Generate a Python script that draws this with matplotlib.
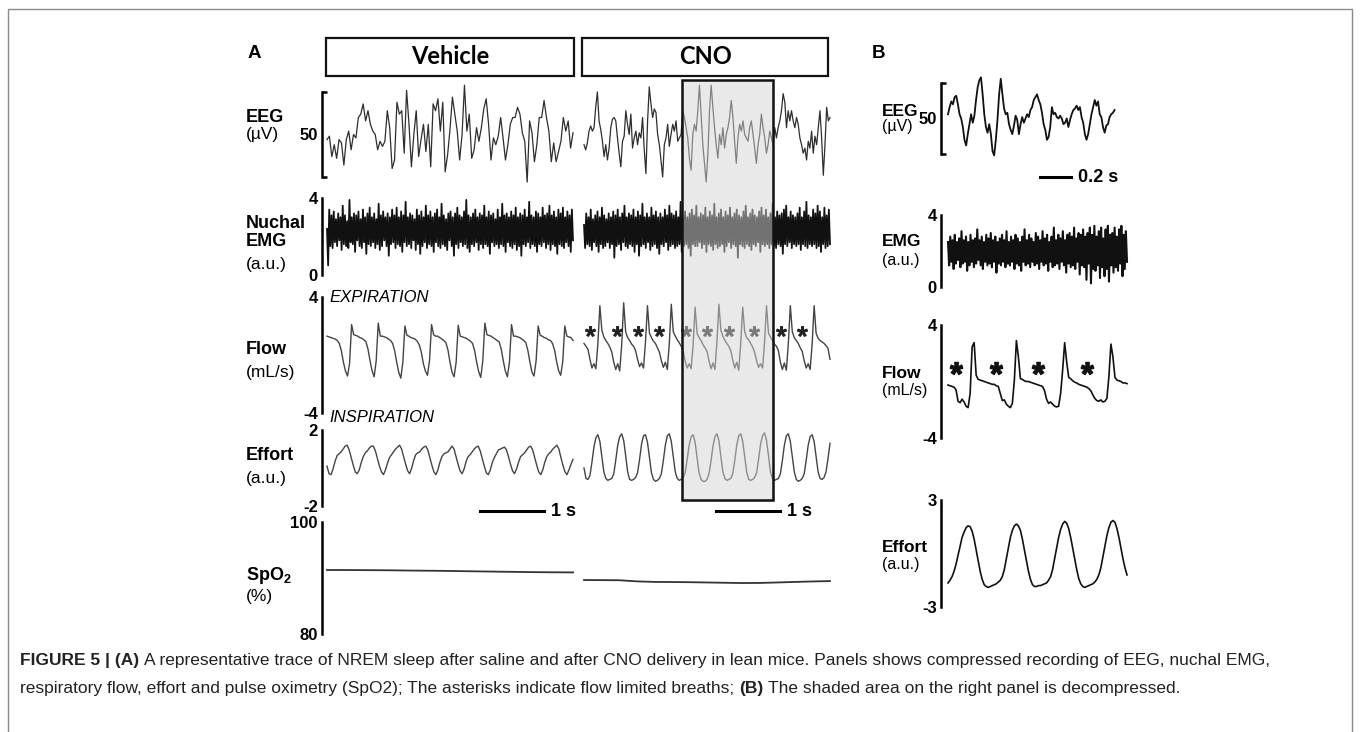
import numpy as np
import matplotlib.pyplot as plt
from matplotlib import transforms, font_manager
from matplotlib.patches import Rectangle
from matplotlib.lines import Line2D

plt.rcParams['font.family'] = ['Liberation Sans', 'DejaVu Sans']
plt.rcParams['mathtext.fontset'] = 'custom'
plt.rcParams['mathtext.rm'] = 'Liberation Sans'
plt.rcParams['mathtext.bf'] = 'Liberation Sans:bold'

names = {f.name for f in font_manager.fontManager.ttflist}
cap_font = 'Liberation Sans Narrow' if 'Liberation Sans Narrow' in names else 'Liberation Sans'
box_font = 'Lato' if 'Lato' in names else 'DejaVu Sans'

# ---- data ----
A_DUR = 3.83   # s per compressed segment (1 s bar = 64 px)
B_DUR = 1.15   # s in decompressed panel

eeg_veh = [-3, -1, -13, -6, -14, -3, -5, -18, -3, 2, -9, 0, -2, 10, 12, 18, 8, 14, 6, 2, 0, -9, -4, -7,
           -4, 14, 4, -20, -15, 19, 12, 14, -11, 26, 6, -19, 0, 14, -13, -3, 6, -10, 6, -19, 18, 14, 21,
           2, 19, -22, -12, 3, 22, 12, 2, -15, 0, 29, 2, 12, -14, -9, 4, -4, 4, 15, 21, 6, -15, -2, -6,
           -1, 10, -2, -15, -6, 6, 10, 10, 16, 12, 1, -4, -28, 8, 1, -16, -6, 10, 10, 20, 10, 2, -16, -5,
           -16, -10, -4, 10, 2, 8, -8, 1]
eeg_cno = [-6, -9, -5, 2, 5, 2, 4, 16, 25, 8, 3, -4, -13, -6, -15, -8, 4, 9, 10, 8, -2, -11, -19, -4,
           -1, 14, 6, 0, 12, -8, -2, 2, -6, 1, -2, 10, -9, -23, 8, 28, 18, 10, 15, 13, 0, -6, -15, -25,
           -6, -2, 6, -7, 0, 6, 2, 8, -4, -2, 0, 14, 10, 4, -2, -14, -21, 0, 6, 2, 14, 29, 12, -6, -17,
           -28, -12, 14, 29, 16, 4, -6, -14, 0, -6, 4, -8, 0, 4, 10, 20, 10, -4, -17, -2, 6, 2, 8, 0, -2,
           -4, 4, 8, 0, -8, -17, -6, 0, 12, 4, -2, -11, -6, 2, -2, -6, 4, -2, 4, 8, 14, 24, 19, 4, 14, 8,
           14, 8, 4, 10, 6, -2, -6, -11, -8, -15, -4, -8, 2, -11, -1, -6, 4, 14, -2, -24, -6, 16, 8, 10]
eeg_b = [3, 8, 12, 10, 15, 16, 10, 3, 0, -6, -15, -19, -11, -4, 3, -3, 2, 13, 22, 27, 29, 17, 3, -6,
         -10, -4, -11, -23, -26, -15, -1, 17, 28, 17, 7, 3, 4, -4, -8, -11, -5, 2, -1, -11, -4, 1, -3, 0,
         3, 1, 6, 8, 13, 15, 17, 13, 10, 4, -4, -8, -15, -13, -6, 8, 3, 4, 1, 0, 2, 0, -4, -3, 0, -6, -1,
         3, 6, 7, 9, 6, 8, 1, -3, -11, -15, -11, -4, 3, 8, 13, 9, 12, 3, 1, -6, -10, -5, -4, 1, 3, 4, 6]

emg_veh = [2.4, 0.5, 3.4, 1.5, 3.1, 1.4, 3.3, 1.7, 2.9, 1.5, 3.2, 1.8, 3.0, 1.3, 3.6, 1.6, 3.1, 1.5, 2.8, 1.4,
           3.9, 1.7, 3.0, 1.6, 3.2, 1.2, 3.1, 1.8, 3.3, 1.5, 2.9, 1.4, 3.4, 1.7, 3.0, 1.1, 3.2, 1.6, 3.5, 1.5,
           3.0, 1.7, 3.2, 1.4, 2.9, 1.6, 3.7, 1.3, 3.1, 1.5, 3.3, 1.8, 3.0, 1.5, 3.2, 1.0, 3.0, 1.6, 3.4, 1.7,
           3.1, 1.4, 3.5, 1.6, 3.0, 1.5, 3.3, 1.2, 3.1, 1.7, 3.8, 1.5, 3.0, 1.6, 3.2, 1.4, 3.1, 1.8, 2.9, 1.3,
           3.4, 1.6, 3.1, 1.1, 3.3, 1.5, 3.0, 1.7, 3.6, 1.4, 3.1, 1.6, 3.3, 1.5, 3.0, 1.2, 3.2, 1.7, 3.4, 1.5,
           3.0, 1.4, 3.7, 1.6, 3.1, 1.5, 2.9, 1.3, 3.2, 1.8, 3.3, 1.5, 3.0, 1.0, 3.2, 1.6, 3.5, 1.4, 3.1, 1.7,
           3.0, 1.5, 3.3, 1.6, 3.9, 1.4, 3.1, 1.2, 3.0, 1.6, 3.2, 1.5, 3.4, 1.7, 3.0, 1.3, 3.2, 1.6, 3.1, 1.4,
           3.6, 1.6, 3.0, 1.5, 3.3, 1.1, 3.1, 1.7, 3.2, 1.5, 2.9, 1.6, 3.4, 1.4, 3.0, 1.6, 3.7, 1.5, 3.1, 1.2,
           3.2, 1.7, 3.0, 1.5, 3.3, 1.4, 3.1, 1.6, 3.5, 1.3, 3.0, 1.5, 3.2, 1.0, 3.1, 1.6, 3.4, 1.5, 3.0, 1.7,
           3.8, 1.4, 3.1, 1.6, 3.0, 1.5, 3.3, 1.2, 3.2, 1.6, 3.0, 1.5, 3.5, 1.7, 3.1, 1.4, 3.2, 1.6, 3.6, 1.3,
           3.1, 1.6, 3.3, 1.5, 3.0, 1.1, 3.4, 1.6, 3.2, 1.5, 3.5, 1.4, 3.0, 1.7, 3.3, 1.5, 3.1, 1.2, 3.4, 1.8]
emg_cno = [2.6, 1.4, 3.2, 1.6, 3.0, 1.5, 3.4, 1.3, 2.9, 1.7, 3.1, 1.5, 3.3, 1.2, 3.0, 1.6, 3.5, 1.4, 3.1, 1.5,
           2.9, 1.7, 3.2, 1.4, 3.0, 1.6, 3.3, 0.9, 3.1, 1.5, 3.4, 1.6, 3.0, 1.3, 3.2, 1.7, 3.6, 1.5, 3.0, 1.4,
           3.2, 1.6, 3.1, 1.5, 3.4, 1.2, 3.0, 1.6, 3.3, 1.0, 3.1, 1.5, 3.7, 1.6, 3.0, 1.4, 3.2, 1.7, 3.0, 1.3,
           3.5, 1.5, 3.1, 1.6, 3.3, 1.4, 3.0, 1.1, 3.2, 1.6, 3.0, 1.5, 3.4, 1.7, 3.1, 1.3, 3.6, 1.5, 3.2, 1.6,
           3.1, 1.4, 3.3, 1.5, 3.0, 1.6, 3.8, 1.2, 3.1, 1.5, 3.3, 1.6, 3.0, 1.4, 3.2, 1.0, 3.4, 1.6, 3.1, 1.5,
           3.6, 1.5, 3.0, 1.7, 3.2, 1.4, 3.1, 1.6, 3.5, 1.2, 3.0, 1.6, 3.3, 1.5, 3.1, 1.3, 3.7, 1.6, 3.0, 1.4,
           3.2, 1.5, 3.4, 1.6, 3.0, 1.2, 3.3, 1.5, 3.1, 1.7, 3.5, 1.4, 3.0, 1.6, 3.2, 1.5, 3.4, 0.9, 3.1, 1.6,
           3.0, 1.5, 3.3, 1.4, 3.6, 1.6, 3.0, 1.5, 3.2, 1.3, 3.4, 1.6, 3.1, 1.5, 3.0, 1.7, 3.3, 1.2, 3.5, 1.6,
           3.1, 1.5, 3.4, 1.6, 3.0, 1.4, 3.2, 1.6, 3.7, 1.5, 3.0, 1.4, 3.3, 1.6, 3.1, 1.5, 3.2, 1.1, 3.4, 1.6,
           3.6, 1.5, 3.0, 1.7, 3.3, 1.4, 3.1, 1.6, 3.0, 1.5, 3.2, 1.6, 3.5, 1.3, 3.0, 1.6, 3.3, 1.5, 3.8, 1.4,
           3.1, 1.6, 3.0, 1.5, 3.4, 1.6, 3.2, 1.4, 3.6, 1.5, 3.3, 1.2, 3.0, 1.6, 3.5, 1.4, 3.1, 1.5, 3.4, 1.6]
emg_b = [2.5, 1.2, 2.8, 1.4, 2.6, 1.0, 2.9, 1.3, 2.5, 1.5, 2.7, 1.1, 3.1, 1.3, 2.6, 1.4, 2.8, 0.9, 2.5, 1.2,
         2.9, 1.4, 2.6, 1.1, 2.7, 1.3, 3.2, 1.5, 2.6, 1.2, 2.8, 1.0, 2.5, 1.4, 2.9, 1.2, 2.7, 1.3, 3.0, 1.1,
         2.6, 1.4, 2.8, 0.8, 2.5, 1.3, 2.7, 1.2, 2.9, 1.4, 2.6, 1.1, 3.1, 1.3, 2.5, 1.2, 2.8, 1.4, 2.6, 1.0,
         2.9, 1.3, 2.7, 1.2, 2.5, 0.9, 2.8, 1.4, 3.2, 1.2, 2.6, 1.3, 2.9, 1.1, 2.7, 1.4, 2.5, 1.2, 3.0, 1.3,
         2.8, 1.0, 2.6, 1.4, 3.1, 1.2, 2.7, 1.3, 2.9, 0.9, 2.5, 1.4, 2.8, 1.1, 3.3, 1.2, 2.6, 1.3, 2.9, 1.0,
         2.7, 1.4, 3.1, 1.2, 2.6, 0.8, 2.9, 1.3, 3.0, 1.1, 2.8, 1.2, 3.3, 1.0, 2.7, 1.4, 3.0, 0.7, 2.9, 1.2,
         3.2, 1.1, 2.8, 0.4, 3.0, 1.3, 3.3, 0.2, 2.9, 1.0, 3.4, 0.9, 2.8, 1.2, 3.1, 0.5, 3.3, 1.1, 2.7, 0.6,
         3.2, 1.0, 3.4, 0.3, 2.9, 1.2, 3.0, 0.8, 3.3, 1.1, 2.8, 0.9, 3.2, 1.3, 3.4, 0.6, 2.9, 1.0, 3.1, 1.4]

flow_veh = [1.3, 1.25, 1.2, 1.15, 1.1, 1.0, 0.8, 0.3, -0.5, -1.1, -1.45, -0.6,
            2.1, 1.4, 1.35, 1.3, 1.2, 1.15, 1.05, 0.9, 0.4, -0.4, -1.1, -1.5, -0.4,
            2.2, 1.3, 1.3, 1.25, 1.2, 1.1, 1.0, 0.8, 0.3, -0.5, -1.2, -1.6, -0.5,
            2.0, 1.35, 1.3, 1.2, 1.15, 1.1, 0.95, 0.7, 0.2, -0.6, -1.1, -1.4, -0.4,
            2.1, 1.4, 1.3, 1.3, 1.2, 1.1, 1.0, 0.85, 0.35, -0.5, -1.2, -1.5, -0.5,
            2.05, 1.3, 1.25, 1.2, 1.15, 1.05, 0.95, 0.8, 0.3, -0.5, -1.15, -1.55, -0.4,
            2.2, 1.4, 1.35, 1.3, 1.2, 1.1, 1.0, 0.9, 0.4, -0.4, -1.1, -1.5, -0.5,
            2.1, 1.3, 1.3, 1.25, 1.2, 1.1, 1.0, 0.85, 0.3, -0.5, -1.2, -1.45, -0.4,
            2.0, 1.35, 1.3, 1.2, 1.15, 1.05, 1.0, 0.8, 0.35, -0.45, -1.1, -1.4, -0.45,
            2.0, 1.3, 1.25, 1.2, 1.0]
flow_cno = [0.8, 0.6, 0.4, -0.3, -0.9, -0.6, -0.95, 0.8,
            3.4, 1.7, 1.25, 1.0, 0.8, 0.55, 0.2, -0.5, -1.0, -0.6, -1.1, 0.7,
            3.6, 1.6, 1.2, 1.0, 0.75, 0.6, 0.3, -0.3, -0.8, -0.55, -0.9, 0.9,
            3.4, 1.5, 1.2, 0.95, 0.8, 0.5, 0.2, -0.4, -0.85, -0.5, -1.0, 0.8,
            3.5, 1.6, 1.3, 1.05, 0.85, 0.6, 0.3, -0.45, -0.9, -0.6, -0.95, 0.7,
            3.3, 1.5, 1.2, 1.0, 0.7, 0.5, 0.25, -0.4, -0.95, -0.55, -1.0, 0.9,
            3.5, 1.7, 1.3, 1.0, 0.8, 0.6, 0.3, -0.35, -0.9, -0.5, -1.05, 0.8,
            3.3, 1.6, 1.2, 1.05, 0.8, 0.55, 0.2, -0.4, -0.85, -0.6, -0.9, 0.85,
            3.4, 1.5, 1.25, 1.0, 0.75, 0.6, 0.3, -0.5, -1.0, -0.55, -1.05, 0.8,
            3.4, 1.6, 1.2, 1.0, 0.8, 0.5, 0.25, -0.4, -0.9, -0.6, -1.0, 0.75,
            3.4, 1.5, 1.15, 1.0, 0.9, 0.8, 0.65, 0.45, -0.3]
flow_b = [-0.25, -0.3, -0.35, -0.4, -0.6, -1.4, -1.5, -1.25, -1.45, -1.75, -1.85, -0.85, 2.45, 2.75, 0.45,
          0.15, 0.1, 0.05, 0.0, -0.05, -0.1, -0.15, -0.2, -0.2, -0.3, -0.35, -0.85, -1.35, -1.3, -1.6,
          -1.75, -1.85, -1.55, 0.1, 2.9, 1.75, 0.2, 0.15, 0.05, 0.0, 0.0, -0.05, -0.1, -0.15, -0.2, -0.25,
          -0.3, -0.35, -0.65, -1.25, -1.55, -1.45, -1.6, -1.75, -1.8, -1.75, -0.85, 0.8, 2.75, 1.4, 0.3,
          0.2, 0.05, -0.05, -0.1, -0.2, -0.25, -0.3, -0.35, -0.4, -0.5, -0.65, -0.95, -1.2, -1.35, -1.4,
          -1.3, -1.45, -1.4, -1.2, 0.35, 2.65, 1.75, 0.3, 0.1, 0.05, 0.0, -0.1, -0.1, -0.15]
ast_cno_t = [0.09, 0.52, 0.84, 1.17, 1.59, 1.91, 2.25, 2.64, 3.06, 3.39]   # flow-limited breaths
ast_b_t = [0.05, 0.31, 0.58, 0.89]

eff_veh = [0.1, -0.3,
           -0.35, -0.05, 0.35, 0.65, 0.75, 0.85, 1.0, 1.15, 1.2, 0.95, 0.55, 0.15, -0.2,
           -0.3, -0.1, 0.3, 0.6, 0.8, 0.9, 1.05, 1.15, 1.15, 0.9, 0.5, 0.1, -0.2,
           -0.35, -0.1, 0.25, 0.55, 0.7, 0.85, 1.0, 1.1, 1.2, 1.0, 0.6, 0.2, -0.15,
           -0.3, 0.0, 0.4, 0.7, 0.8, 0.85, 1.0, 1.1, 1.15, 0.95, 0.55, 0.15, -0.2,
           -0.35, -0.1, 0.3, 0.6, 0.75, 0.8, 0.85, 1.0, 1.15, 1.0, 0.6, 0.2, -0.15,
           -0.3, -0.05, 0.35, 0.6, 0.7, 0.85, 1.0, 1.1, 1.15, 0.9, 0.5, 0.1, -0.25,
           -0.35, -0.1, 0.3, 0.55, 0.75, 0.95, 1.0, 1.05, 1.1, 0.95, 0.6, 0.2, -0.15,
           -0.3, -0.05, 0.3, 0.6, 0.7, 0.8, 0.95, 1.1, 1.15, 0.95, 0.55, 0.15, -0.2,
           -0.35, -0.1, 0.3, 0.6, 0.75, 0.85, 1.0, 1.1, 1.2, 1.0, 0.55, 0.15, -0.2,
           -0.35, -0.1, 0.2, 0.45]
eff_cno = [0.0, -0.55, -0.6, -0.4, 0.3, 1.1, 1.6,
           1.75, 1.4, 0.6, -0.2, -0.55, -0.65, -0.6, -0.55, -0.3, 0.4, 1.2, 1.65,
           1.8, 1.45, 0.65, -0.2, -0.6, -0.65, -0.6, -0.5, -0.25, 0.45, 1.25, 1.7,
           1.75, 1.35, 0.55, -0.25, -0.6, -0.7, -0.65, -0.55, -0.3, 0.4, 1.2, 1.7,
           1.8, 1.4, 0.6, -0.2, -0.55, -0.65, -0.6, -0.5, -0.25, 0.45, 1.2, 1.65,
           1.75, 1.35, 0.55, -0.25, -0.6, -0.7, -0.7, -0.6, -0.3, 0.35, 1.15, 1.65,
           1.8, 1.45, 0.6, -0.2, -0.55, -0.65, -0.6, -0.55, -0.3, 0.4, 1.2, 1.7,
           1.8, 1.4, 0.6, -0.2, -0.6, -0.65, -0.6, -0.5, -0.25, 0.45, 1.25, 1.7,
           1.85, 1.45, 0.65, -0.2, -0.55, -0.65, -0.6, -0.55, -0.3, 0.4, 1.2, 1.7,
           1.8, 1.4, 0.6, -0.2, -0.6, -0.7, -0.65, -0.55, -0.3, 0.4, 1.2, 1.65,
           1.75, 1.4, 0.6, -0.2, -0.55, -0.6, -0.5, -0.2, 0.5, 1.3]
eff_b = [-1.65, -1.5, -1.3, -1.0, -0.6, -0.1, 0.4, 0.9, 1.2, 1.45,
         1.55, 1.5, 1.25, 0.8, 0.2, -0.4, -1.0, -1.45, -1.75, -1.85, -1.9, -1.85, -1.8, -1.75, -1.7,
         -1.6, -1.5, -1.3, -0.9, -0.3, 0.3, 0.9, 1.3, 1.55,
         1.65, 1.55, 1.3, 0.8, 0.2, -0.4, -1.0, -1.45, -1.75, -1.85, -1.85, -1.8, -1.8, -1.75, -1.7,
         -1.65, -1.5, -1.3, -0.9, -0.3, 0.3, 0.9, 1.35, 1.65,
         1.8, 1.7, 1.4, 0.9, 0.3, -0.3, -0.9, -1.4, -1.7, -1.85, -1.9, -1.85, -1.8, -1.75, -1.7,
         -1.6, -1.45, -1.2, -0.8, -0.2, 0.4, 1.0, 1.45, 1.75,
         1.85, 1.75, 1.4, 0.9, 0.3, -0.3, -0.8, -1.2]

spo2_veh = [91.43, 91.42, 91.40, 91.38, 91.33, 91.30, 91.26, 91.20, 91.15, 91.10, 91.05, 91.02, 91.00]
spo2_cno = [89.64, 89.62, 89.60, 89.40, 89.30, 89.28, 89.25, 89.20, 89.15, 89.10, 89.12, 89.20, 89.30,
            89.38, 89.45]

shade_t = (1.52, 2.94)          # CNO window expanded in panel B
bar_veh_t = (2.38, 3.38)
bar_cno_t = (2.05, 3.05)
bar_b_t = (0.59, 0.79)

caption1 = [("FIGURE 5 | (A)", True),
            ("A representative trace of NREM sleep after saline and after CNO delivery in lean mice. "
             "Panels shows compressed recording of EEG, nuchal EMG,", False)]
caption2 = [("respiratory flow, effort and pulse oximetry (SpO2); The asterisks indicate flow limited breaths;", False),
            ("(B)", True),
            ("The shaded area on the right panel is decompressed.", False)]

# ---- figure ----
W, H = 1360, 732
fig = plt.figure(figsize=(W / 100, H / 100), dpi=100)
page = fig.add_axes([0, 0, 1, 1], zorder=-1)
page.set_xlim(0, W)
page.set_ylim(H, 0)
page.axis('off')


def trace_ax(x0, x1, y0, y1, ylim, tmax):
    ax = fig.add_axes([x0 / W, 1 - y1 / H, (x1 - x0) / W, (y1 - y0) / H])
    ax.set_xlim(0, tmax)
    ax.set_ylim(*ylim)
    ax.patch.set_visible(False)
    for s in ax.spines.values():
        s.set_visible(False)
    ax.set_xticks([])
    ax.set_yticks([])
    return ax


def bracket(ax, ticks, labels, gap, size=12):
    sp = ax.spines['left']
    sp.set_visible(True)
    sp.set_position(('outward', gap))
    sp.set_linewidth(1.8)
    sp.set_capstyle('projecting')
    lo, hi = ax.get_ylim()
    ax.set_yticks([lo, hi], minor=True)
    ax.set_yticks(ticks, labels)
    ax.tick_params(axis='y', which='minor', direction='in', length=3.5, width=1.8)
    ax.tick_params(axis='y', which='major', length=0, pad=3, labelsize=size)
    for t in ax.get_yticklabels():
        t.set_fontweight('bold')


def trace(ax, vals, tmax, **kw):
    t = np.linspace(0, tmax, len(vals))
    ax.plot(t, vals, clip_on=False, **kw)


gap_a = 5 * 0.72
gap_b = 7 * 0.72
VX = (327, 573)
CX = (584, 830)
BX = (948, 1127)

# panel A rows
rows_a = {'eeg': (92, 177, (-25, 25)), 'emg': (198, 275, (0, 4)), 'flow': (297, 413, (-4, 4)),
          'eff': (430, 506, (-2, 2)), 'spo2': (522, 634, (80, 100))}
axv, axc = {}, {}
for k, (y0, y1, yl) in rows_a.items():
    axv[k] = trace_ax(VX[0], VX[1], y0, y1, yl, A_DUR)
    axc[k] = trace_ax(CX[0], CX[1], y0, y1, yl, A_DUR)

bracket(axv['eeg'], [0], ['50'], gap_a)
bracket(axv['emg'], [0, 4], ['0', '4'], gap_a)
bracket(axv['flow'], [-4, 4], ['-4', '4'], gap_a)
bracket(axv['eff'], [-2, 2], ['-2', '2'], gap_a)
bracket(axv['spo2'], [80, 100], ['80', '100'], gap_a)

ca = '#2e2e2e'
trace(axv['eeg'], eeg_veh, A_DUR, color=ca, lw=0.9)
trace(axc['eeg'], eeg_cno, A_DUR, color=ca, lw=0.9)
trace(axv['emg'], emg_veh, A_DUR, color='#111111', lw=1.3)
trace(axc['emg'], emg_cno, A_DUR, color='#111111', lw=1.3)
trace(axv['flow'], flow_veh, A_DUR, color='#444444', lw=1.0)
trace(axc['flow'], flow_cno, A_DUR, color='#444444', lw=1.0)
trace(axv['eff'], eff_veh, A_DUR, color='#444444', lw=1.0)
trace(axc['eff'], eff_cno, A_DUR, color='#444444', lw=1.0)
trace(axv['spo2'], spo2_veh, A_DUR, color='#333333', lw=1.3)
trace(axc['spo2'], spo2_cno, A_DUR, color='#333333', lw=1.3)
axc['flow'].plot(ast_cno_t, [1.65] * len(ast_cno_t), ls='none', marker=r'$*$',
                 ms=7, color='#222222', clip_on=False)

# panel B rows
rows_b = {'eeg': (83, 154, (-25, 25)), 'emg': (215, 287, (0, 4)), 'flow': (325, 438, (-4, 4)),
          'eff': (500, 607, (-3, 3))}
axb = {k: trace_ax(BX[0], BX[1], y0, y1, yl, B_DUR) for k, (y0, y1, yl) in rows_b.items()}
bracket(axb['eeg'], [0], ['50'], gap_b)
bracket(axb['emg'], [0, 4], ['0', '4'], gap_b)
bracket(axb['flow'], [-4, 4], ['-4', '4'], gap_b)
bracket(axb['eff'], [-3, 3], ['-3', '3'], gap_b)
trace(axb['eeg'], eeg_b, 1.07, color='#111111', lw=1.3)
trace(axb['emg'], emg_b, B_DUR, color='#111111', lw=1.5)
trace(axb['flow'], flow_b, B_DUR, color='#111111', lw=1.2)
trace(axb['eff'], eff_b, B_DUR, color='#111111', lw=1.2)
axb['flow'].plot(ast_b_t, [0.95] * len(ast_b_t), ls='none', marker=r'$\mathbf{*}$',
                 ms=9, color='#111111', clip_on=False)

# shaded window (x in CNO time, y in page pixels)
blend = transforms.blended_transform_factory(axc['flow'].transData, page.transData)
fig.add_artist(Rectangle((shade_t[0], 80), shade_t[1] - shade_t[0], 420, transform=blend,
                         facecolor='#d4d4d4', alpha=0.5, edgecolor='none', zorder=20))
fig.add_artist(Rectangle((shade_t[0], 80), shade_t[1] - shade_t[0], 420, transform=blend,
                         facecolor='none', edgecolor='#111111', lw=1.8, zorder=21))


def scale_bar(ax, span, y, label):
    bl = transforms.blended_transform_factory(ax.transData, page.transData)
    fig.add_artist(Line2D(span, [y, y], transform=bl, color='k', lw=2.2, zorder=22))
    off = transforms.offset_copy(bl, fig=fig, x=7, y=0, units='dots')
    fig.text(span[1], y, label, transform=off, ha='left', va='center',
             fontsize=13, fontweight='bold', zorder=22)


scale_bar(axv['eff'], bar_veh_t, 511, '1 s')
scale_bar(axc['eff'], bar_cno_t, 511, '1 s')
scale_bar(axb['eeg'], bar_b_t, 177, '0.2 s')

# row labels
def lab(x, y, s, bold=True, size=13, **kw):
    page.text(x, y, s, ha='left', va='center', fontsize=size,
              fontweight='bold' if bold else 'normal', **kw)


for s, y, b in [('EEG', 118, True), ('(µV)', 135, False), ('Nuchal', 223, True), ('EMG', 242, True),
                ('(a.u.)', 265, False), ('Flow', 350, True), ('(mL/s)', 372, False),
                ('Effort', 456, True), ('(a.u.)', 478, False), (r'$\mathbf{SpO_2}$', 575, True),
                ('(%)', 597, False)]:
    lab(246, y, s, b, 13 if b else 12.5)
for s, y, b in [('EEG', 111, True), ('(µV)', 127, False), ('EMG', 242, True), ('(a.u.)', 261, False),
                ('Flow', 373, True), ('(mL/s)', 390, False), ('Effort', 547, True),
                ('(a.u.)', 565, False)]:
    lab(882, y, s, b, 12.5 if b else 11.5)

lab(329, 297, 'EXPIRATION', False, 12, style='italic')
lab(329, 417, 'INSPIRATION', False, 12, style='italic')
lab(248, 53, 'A', True, 13.5)
lab(872, 53, 'B', True, 13.5)

# condition boxes
for x0, x1, s in [(326, 574, 'Vehicle'), (582, 828, 'CNO')]:
    page.add_patch(Rectangle((x0, 38), x1 - x0, 38, facecolor='white', edgecolor='#111111', lw=1.6))
    page.text((x0 + x1) / 2, 57, s, ha='center', va='center', fontsize=17,
              fontweight='bold', family=box_font)

# page frame
page.plot([8, 8, 1352, 1352], [H + 5, 9, 9, H + 5], color='#8a8a8a', lw=1, clip_on=False)

# caption, bold and regular runs chained on one line
r = fig.canvas.get_renderer()
cap_size = 12.5


def run_width(s, bold):
    t = fig.text(0, 0, s, fontsize=cap_size, family=cap_font, fontweight='bold' if bold else 'normal')
    w = t.get_window_extent(r).width
    t.remove()
    return w


space = run_width('a a', False) - run_width('aa', False)
for y, parts in [(661, caption1), (689, caption2)]:
    x = 20
    for s, b in parts:
        t = page.text(x, y, s, ha='left', va='center', fontsize=cap_size, family=cap_font,
                      fontweight='bold' if b else 'normal', color='#222222')
        x += t.get_window_extent(r).width + space

fig.savefig('out.png', dpi=100)
